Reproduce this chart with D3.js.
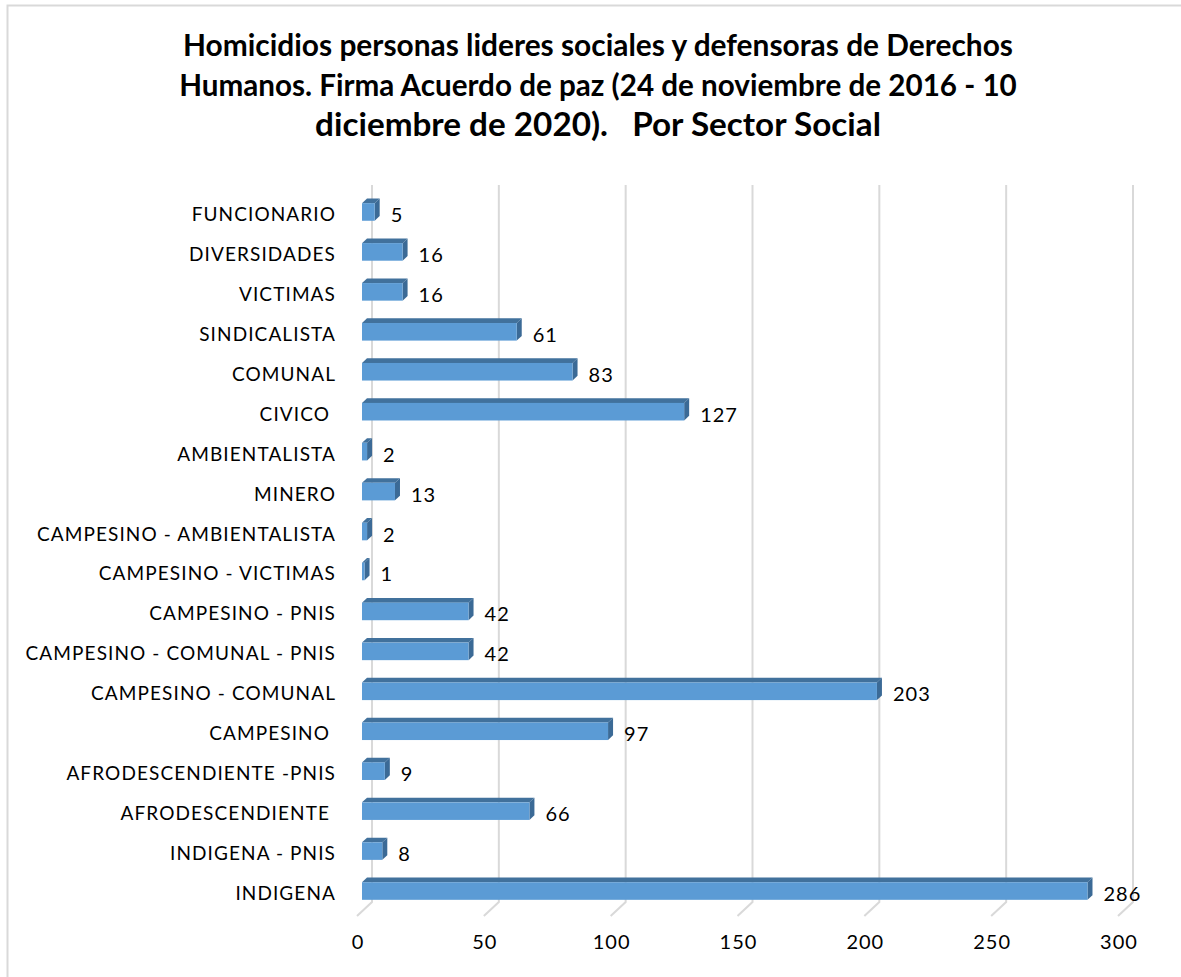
<!DOCTYPE html>
<html>
<head>
<meta charset="utf-8">
<script src="https://cdn.jsdelivr.net/npm/d3@7"></script>
<style>
  body { margin: 0; background: #fff; }
  text { font-family: Lato, "Open Sans", sans-serif; white-space: pre; }
</style>
</head>
<body>
<div id="chart"></div>
<script>
var width = 1181,
    height = 977;

// data, top to bottom as in the picture
var categories = [
  "FUNCIONARIO", "DIVERSIDADES", "VICTIMAS", "SINDICALISTA", "COMUNAL", "CIVICO ",
  "AMBIENTALISTA", "MINERO", "CAMPESINO - AMBIENTALISTA", "CAMPESINO - VICTIMAS",
  "CAMPESINO - PNIS", "CAMPESINO - COMUNAL - PNIS", "CAMPESINO - COMUNAL", "CAMPESINO ",
  "AFRODESCENDIENTE -PNIS", "AFRODESCENDIENTE ", "INDIGENA - PNIS", "INDIGENA"
];
var values = [5, 16, 16, 61, 83, 127, 2, 13, 2, 1, 42, 42, 203, 97, 9, 66, 8, 286];
var ticks = [0, 50, 100, 150, 200, 250, 300];
var titleLines = [
  "Homicidios personas lideres sociales y defensoras de Derechos",
  "Humanos. Firma Acuerdo de paz (24 de noviembre de 2016 - 10",
  "diciembre de 2020).   Por Sector Social"
];

// 3d offsets: full depth goes from the front floor edge to the back wall
var depthX = 15, depthY = -14;

var x = d3.scaleLinear().domain([0, 300]).range([357, 1118]);   // front plane
var y = d3.scaleBand().domain(categories).range([192, 911]).paddingInner(0.56).paddingOuter(0.28);

var svg = d3.select("#chart").append("svg")
    .attr("width", width)
    .attr("height", height);

svg.append("rect")
    .attr("x", 7.5).attr("y", 5.5)
    .attr("width", 1200).attr("height", 1000)
    .attr("fill", "#fff")
    .attr("stroke", "#d9d9d9")
    .attr("stroke-width", 2);

// title
var title = svg.append("g").attr("class", "title");
var titleWidths = [830, 838, 566];
title.selectAll("text")
    .data(titleLines)
    .enter().append("text")
    .attr("x", 598)
    .attr("y", function(d, i) { return 56 + i * 40; })
    .attr("text-anchor", "middle")
    .attr("font-weight", "bold")
    .attr("font-size", 25)
    .attr("fill", "#000")
    .text(function(d) { return d; })
    .each(function(d, i) {
      var w = this.getComputedTextLength();
      d3.select(this).attr("font-size", 25 * titleWidths[i] / w);
    });

// gridlines on back wall + floor
var grid = svg.append("g").attr("class", "grid");
var gridTop = 185, gridBottom = 902;
grid.selectAll("path")
    .data(ticks)
    .enter().append("path")
    .attr("d", function(d) {
      var bx = x(d) + depthX;
      return "M" + bx + "," + gridTop + "L" + bx + "," + gridBottom + "L" + x(d) + "," + (gridBottom - depthY);
    })
    .attr("fill", "none")
    .attr("stroke", "#d9d9d9")
    .attr("stroke-width", 2);

// tick labels
svg.append("g").selectAll("text")
    .data(ticks)
    .enter().append("text")
    .attr("x", function(d) { return x(d) + 1; })
    .attr("y", 949)
    .attr("text-anchor", "middle")
    .attr("font-size", 20)
    .attr("letter-spacing", 1)
    .attr("fill", "#000")
    .text(function(d) { return d; });

// bars: front face sits one third into the depth, bar is one third deep
var fx = depthX / 3, fy = depthY / 3;
var bars = svg.append("g").attr("class", "bars").selectAll("g")
    .data(values)
    .enter().append("g");

bars.append("path")   // top face
    .attr("d", function(d, i) {
      var x0 = x(0) + fx, x1 = x(d) + fx, y0 = y(categories[i]);
      return "M" + x0 + "," + y0 + "L" + (x0 + fx) + "," + (y0 + fy) +
             "L" + (x1 + fx) + "," + (y0 + fy) + "L" + x1 + "," + y0 + "Z";
    })
    .attr("fill", "#41719c");

bars.append("path")   // side face
    .attr("d", function(d, i) {
      var x1 = x(d) + fx, y0 = y(categories[i]), y1 = y0 + y.bandwidth();
      return "M" + x1 + "," + y0 + "L" + (x1 + fx) + "," + (y0 + fy) +
             "L" + (x1 + fx) + "," + (y1 + fy) + "L" + x1 + "," + y1 + "Z";
    })
    .attr("fill", "#3b6a96");

bars.append("rect")   // front face
    .attr("x", x(0) + fx)
    .attr("y", function(d, i) { return y(categories[i]); })
    .attr("width", function(d) { return x(d) - x(0); })
    .attr("height", y.bandwidth())
    .attr("fill", "#5b9bd5");

// value labels
bars.append("text")
    .attr("x", function(d) { return x(d) + fx + 16; })
    .attr("y", function(d, i) { return y(categories[i]) + y.bandwidth() / 2 + 10; })
    .attr("font-size", 20)
    .attr("letter-spacing", 1)
    .attr("fill", "#000")
    .text(function(d) { return d; });

// category labels
svg.append("g").selectAll("text")
    .data(categories)
    .enter().append("text")
    .attr("x", 336)
    .attr("y", function(d) { return y(d) + y.bandwidth() / 2 + 9; })
    .attr("text-anchor", "end")
    .attr("font-size", 19)
    .attr("letter-spacing", 1.1)
    .attr("fill", "#000")
    .text(function(d) { return d; });
</script>
</body>
</html>
